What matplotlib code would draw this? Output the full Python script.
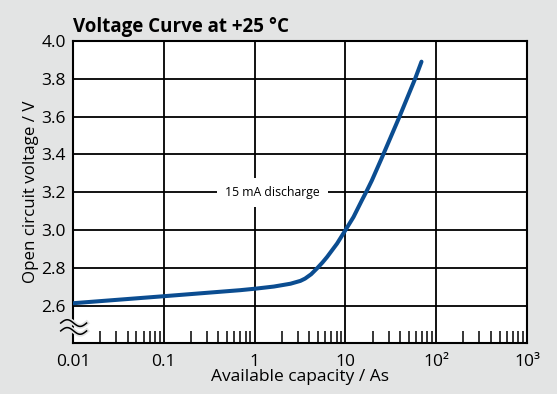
import numpy as np
import matplotlib
matplotlib.use('Agg')
from matplotlib import pyplot as plt

plt.rcParams['font.family'] = ['Open Sans', 'DejaVu Sans']

# Leerlaufspannung über entnommene Kapazität, 15 mA Entladung
capacity_as = [0.01, 0.1, 0.7, 1.03, 1.63, 2.49, 3.2, 3.6, 4.2, 4.9, 5.6, 6.29, 8.11, 10.0,
               12.3, 15.2, 17.3, 19.6, 25.1, 39.5, 58.7, 69.0]
voltage_v = [2.615, 2.652, 2.684, 2.692, 2.703, 2.718, 2.733, 2.745, 2.768, 2.800, 2.830, 2.859, 2.930, 3.000,
             3.070, 3.158, 3.210, 3.263, 3.380, 3.600, 3.800, 3.890]

y_ticks = [2.6, 2.8, 3.0, 3.2, 3.4, 3.6, 3.8, 4.0]
x_ticks = [0.01, 0.1, 1, 10, 100, 1000]
x_tick_labels = ['0.01', '0.1', '1', '10', '10²', '10³']

bg = '#e3e4e4'
fig = plt.figure(figsize=(5.57, 3.94), dpi=100, facecolor=bg)
ax = fig.add_axes([0.131, 0.1294, 0.815, 0.767])
ax.set_facecolor('white')

ax.set_xscale('log')
ax.set_xlim(0.01, 1000)
ax.set_ylim(2.405, 4.0)

# Gitter
for y in y_ticks:
    ax.axhline(y, color='black', lw=1.3, zorder=1)
for x in x_ticks:
    ax.axvline(x, color='black', lw=1.3, zorder=1)

ax.plot(capacity_as, voltage_v, color='#0b4d91', lw=2.9, solid_capstyle='round',
        solid_joinstyle='round', zorder=3)

ax.text(1.58, 3.2, '15 mA discharge', fontsize=8.8, ha='center', va='center', zorder=2,
        bbox=dict(boxstyle='square,pad=0.65', fc='white', ec='none'))

ax.set_yticks(y_ticks)
ax.set_yticklabels(['%.1f' % v for v in y_ticks], fontsize=12.5)
ax.set_xticks(x_ticks)
ax.set_xticklabels(x_tick_labels, fontsize=12.5)
ax.tick_params(axis='y', which='major', length=0, pad=5)
ax.tick_params(axis='x', which='major', length=0, pad=8)
ax.tick_params(axis='x', which='minor', direction='in', length=9, width=1.1, color='black')
ax.tick_params(axis='y', which='minor', length=0)

for s in ax.spines.values():
    s.set_linewidth(1.5)

ax.set_xlabel('Available capacity / As', fontsize=12.5, labelpad=-1)
ax.set_ylabel('Open circuit voltage / V', fontsize=12.2, labelpad=2)
ax.set_title('Voltage Curve at +25 °C', fontsize=13.5, fontweight='bold', loc='left', pad=6)

# Achsenunterbrechung
t = np.linspace(0, 1, 40)
wx = -0.027 + t * 0.057
for yc in (0.066, 0.04):
    wy = yc + 0.011 * np.sin(2 * np.pi * t)
    ax.plot(wx, wy, transform=ax.transAxes, color=bg, lw=3.5, clip_on=False, zorder=4)
    ax.plot(wx, wy, transform=ax.transAxes, color='black', lw=1.1, clip_on=False, zorder=5)

fig.savefig('out.png', dpi=100, facecolor=bg)
